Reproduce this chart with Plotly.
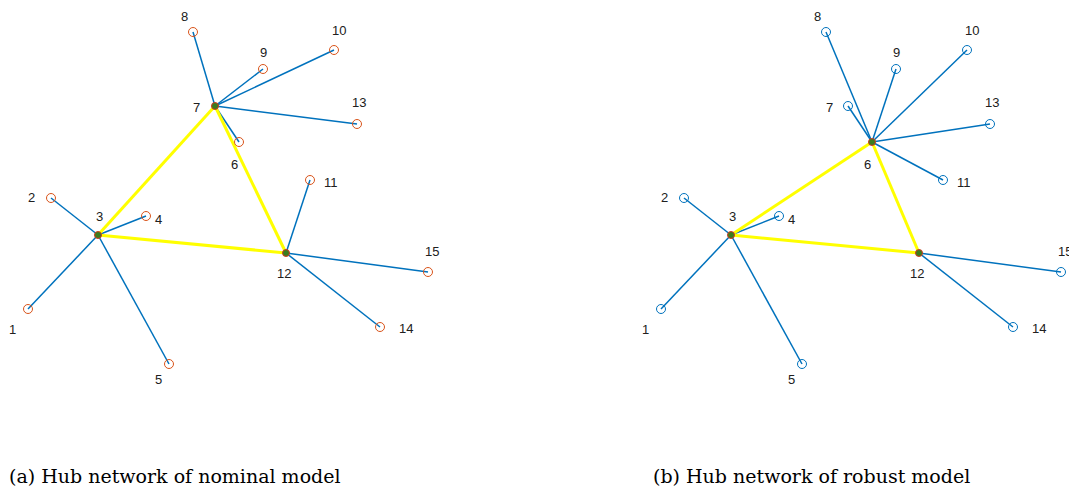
import plotly.graph_objects as go

# Node coordinates (same layout in both panels), node ids 1..15
node_ids = list(range(1, 16))
node_x = [2.8, 5.1, 9.8, 14.6, 16.9, 23.9, 21.5, 19.3, 26.3, 33.4, 31.0, 28.6, 35.7, 38.0, 42.8]
node_y = [18.2, 29.3, 25.6, 27.5, 12.7, 34.9, 38.5, 45.9, 42.2, 44.1, 31.1, 23.8, 36.7, 16.4, 21.9]

# Hub assignment of each node (nominal and robust models)
hub_nominal = [3, 3, 3, 3, 3, 7, 7, 7, 7, 7, 12, 12, 7, 12, 12]
hub_robust = [3, 3, 3, 3, 3, 6, 6, 6, 6, 6, 6, 12, 6, 12, 12]
hubs_nominal = [3, 7, 12]
hubs_robust = [3, 6, 12]

captions = ["(a) Hub network of nominal model", "(b) Hub network of robust model"]

# label pixel offsets (styling)
label_dx = [-16, -20, 1, 12, -11, -5, -19, -9, 0, 5, 21, -2, 2, 26, 4]
label_dy = [-20, 1, 19, -3, -15, -22, -1, 16, 17, 20, -2, -20, 22, -1, 21]

BLUE = "#0072BD"
ORANGE = "#D95319"
YELLOW = "#FFFF00"

fig = go.Figure()


def add_panel(hub_of, hubs, node_color, xa, ya):
    # spokes
    sx, sy = [], []
    for i, h in enumerate(hub_of):
        n = node_ids[i]
        if n in hubs:
            continue
        hi = node_ids.index(h)
        sx += [node_x[hi], node_x[i], None]
        sy += [node_y[hi], node_y[i], None]
    fig.add_trace(go.Scatter(x=sx, y=sy, mode="lines", line=dict(color=BLUE, width=1.5),
                             xaxis=xa, yaxis=ya, hoverinfo="skip", showlegend=False))
    # hub links (complete graph among hubs)
    tx, ty = [], []
    for a in range(len(hubs)):
        for b in range(a + 1, len(hubs)):
            ia, ib = node_ids.index(hubs[a]), node_ids.index(hubs[b])
            tx += [node_x[ia], node_x[ib], None]
            ty += [node_y[ia], node_y[ib], None]
    fig.add_trace(go.Scatter(x=tx, y=ty, mode="lines", line=dict(color=YELLOW, width=3),
                             xaxis=xa, yaxis=ya, hoverinfo="skip", showlegend=False))
    # non-hub nodes
    nx = [node_x[i] for i, n in enumerate(node_ids) if n not in hubs]
    ny = [node_y[i] for i, n in enumerate(node_ids) if n not in hubs]
    fig.add_trace(go.Scatter(x=nx, y=ny, mode="markers",
                             marker=dict(symbol="circle-open", size=9, color=node_color,
                                         line=dict(width=1, color=node_color)),
                             xaxis=xa, yaxis=ya, showlegend=False))
    # hubs
    hx = [node_x[node_ids.index(h)] for h in hubs]
    hy = [node_y[node_ids.index(h)] for h in hubs]
    fig.add_trace(go.Scatter(x=hx, y=hy, mode="markers",
                             marker=dict(symbol="circle", size=7, color="#3a7d1f",
                                         line=dict(width=1, color="#d03a20")),
                             xaxis=xa, yaxis=ya, showlegend=False))
    # labels
    for i, n in enumerate(node_ids):
        fig.add_annotation(x=node_x[i], y=node_y[i], xref=xa, yref=ya, text=str(n),
                           showarrow=False, xshift=label_dx[i], yshift=label_dy[i],
                           font=dict(family="Liberation Sans", size=13, color="#202020"))


add_panel(hub_nominal, hubs_nominal, ORANGE, "x", "y")
add_panel(hub_robust, hubs_robust, BLUE, "x2", "y2")

W, H = 1069, 491
ax = dict(visible=False, showgrid=False, zeroline=False, fixedrange=True)
fig.update_layout(
    width=W, height=H, margin=dict(l=0, r=0, t=0, b=0),
    paper_bgcolor="white", plot_bgcolor="white",
    xaxis=dict(domain=[0, 534.5 / W], range=[0, 53.45], **ax),
    yaxis=dict(domain=[0, 1], range=[0, 49.1], **ax),
    xaxis2=dict(domain=[633 / W, 1], range=[0, 43.6], anchor="y2", **ax),
    yaxis2=dict(domain=[0, 1], range=[0, 49.1], anchor="x2", **ax),
)

cap_x = [7, 651]
for c, px in zip(captions, cap_x):
    fig.add_annotation(x=px / W, y=1 - 476 / H, xref="paper", yref="paper", text=c,
                       showarrow=False, xanchor="left", yanchor="middle",
                       font=dict(family="DejaVu Serif", size=19, color="black"))

fig.write_html("out.html", config={"displayModeBar": False},
               post_script="document.body.style.margin='0';document.body.style.overflow='hidden';")
